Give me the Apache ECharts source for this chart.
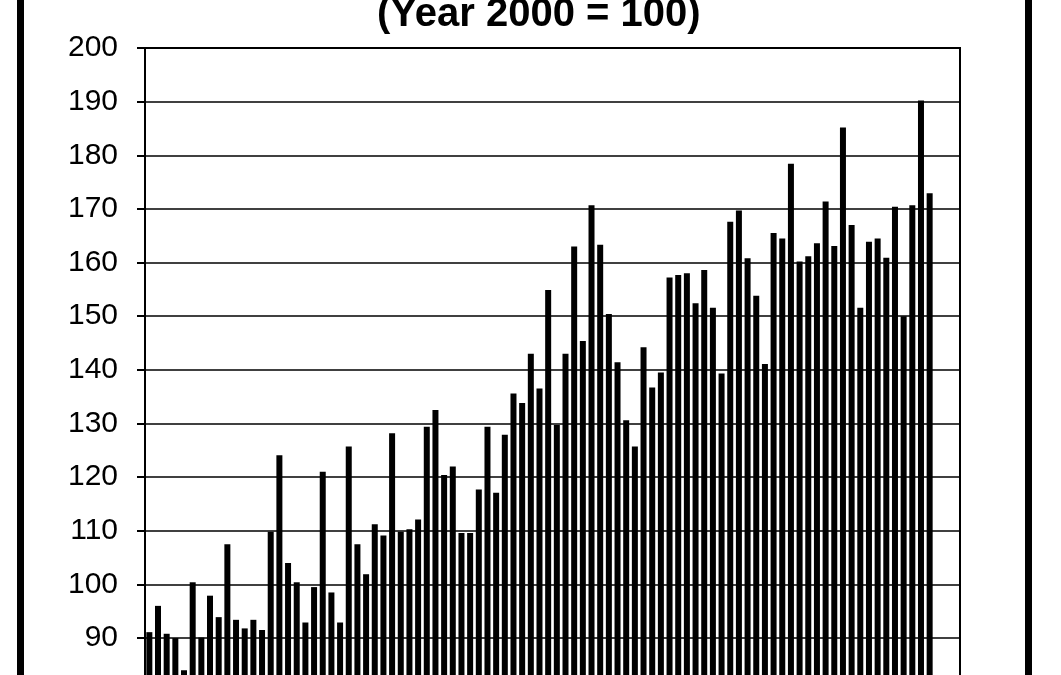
<!DOCTYPE html>
<html>
<head>
<meta charset="utf-8">
<script src="https://cdn.jsdelivr.net/npm/echarts@6/dist/echarts.min.js"></script>
<style>
html,body{margin:0;padding:0;background:#fff;overflow:hidden;}
#chart{width:1061px;height:700px;}
</style>
</head>
<body>
<div id="chart"></div>
<script>
var titleText = "(Year 2000 = 100)";
var categories = ["1","2","3","4","5","6","7","8","9","10",
"11","12","13","14","15","16","17","18","19","20",
"21","22","23","24","25","26","27","28","29","30",
"31","32","33","34","35","36","37","38","39","40",
"41","42","43","44","45","46","47","48","49","50",
"51","52","53","54","55","56","57","58","59","60",
"61","62","63","64","65","66","67","68","69","70",
"71","72","73","74","75","76","77","78","79","80",
"81","82","83","84","85","86","87","88","89","90",
"91","92","93","94"];
var indexValues = [91.1, 96.0, 90.8, 90.0, 84.0, 100.4, 90.1, 97.9, 93.9, 107.5,
93.4, 91.8, 93.4, 91.5, 109.8, 124.1, 104.0, 100.4, 92.9, 99.5,
121.0, 98.5, 92.9, 125.7, 107.5, 101.9, 111.2, 109.1, 128.2, 109.8,
110.3, 112.1, 129.4, 132.5, 120.4, 122.0, 109.6, 109.6, 117.7, 129.4,
117.1, 127.9, 135.6, 133.8, 143.0, 136.5, 154.9, 129.7, 143.0, 163.0,
145.4, 170.7, 163.3, 150.4, 141.4, 130.6, 125.7, 144.2, 136.7, 139.5,
157.2, 157.7, 158.0, 152.4, 158.6, 151.6, 139.3, 167.6, 169.7, 160.8,
153.8, 141.1, 165.5, 164.5, 178.4, 160.2, 161.2, 163.6, 171.4, 163.1,
185.2, 167.0, 151.6, 163.9, 164.5, 160.9, 170.4, 150.0, 170.7, 190.2,
172.9];
var yMin = 80, yMax = 200, yStep = 10;

var chart = echarts.init(document.getElementById('chart'));
chart.setOption({
  backgroundColor: '#ffffff',
  animation: false,
  title: {
    text: titleText,
    left: 372,
    top: -10,
    textStyle: {fontFamily: 'Liberation Sans, Arial, sans-serif', fontSize: 40, fontWeight: 'bold', color: '#000'}
  },
  graphic: [
    {type: 'rect', shape: {x: 17, y: -5, width: 7, height: 710}, style: {fill: '#000'}},
    {type: 'rect', shape: {x: 1025, y: -5, width: 7, height: 710}, style: {fill: '#000'}}
  ],
  grid: {
    left: 145, top: 48, width: 815, height: 643.7,
    containLabel: false,
    outerBoundsMode: 'none',
    show: true, borderColor: '#000', borderWidth: 2, backgroundColor: '#fff'
  },
  xAxis: {
    type: 'category',
    data: categories,
    axisLine: {show: true, lineStyle: {color: '#000', width: 2}},
    axisTick: {show: false},
    axisLabel: {show: false},
    splitLine: {show: false}
  },
  yAxis: {
    type: 'value',
    min: yMin, max: yMax, interval: yStep,
    axisLine: {show: true, lineStyle: {color: '#000', width: 2}},
    axisTick: {show: true, inside: false, length: 8, lineStyle: {color: '#000', width: 2}},
    axisLabel: {margin: 27, color: '#000', fontSize: 30, fontFamily: 'Liberation Sans, Arial, sans-serif'},
    splitLine: {show: true, lineStyle: {color: '#000', width: 1.5}}
  },
  series: [{
    type: 'bar',
    data: indexValues,
    barWidth: 6,
    itemStyle: {color: '#000'}
  }]
});
</script>
</body>
</html>
